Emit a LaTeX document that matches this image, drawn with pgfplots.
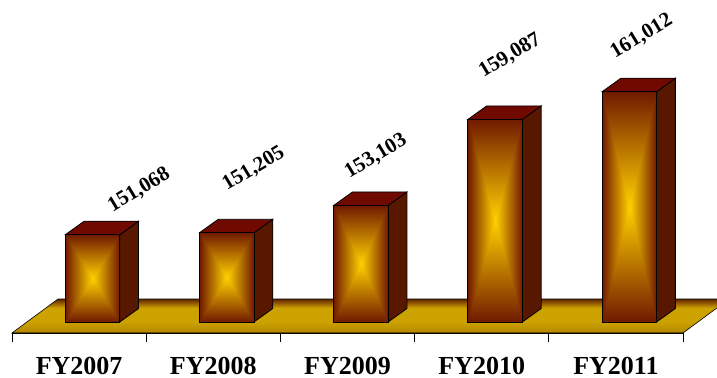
\documentclass[border=0pt]{standalone}
\usepackage{pgfplots}
\pgfplotsset{compat=1.18}
\usepackage{pgfplotstable}
\usepackage{fontspec}
\setmainfont{Liberation Serif}

\definecolor{sideface}{RGB}{88,24,0}
\definecolor{topface}{RGB}{112,10,0}
\definecolor{flA}{RGB}{128,90,0}
\definecolor{flB}{RGB}{184,140,0}
\definecolor{flC}{RGB}{204,162,0}
\definecolor{flD}{RGB}{150,90,0}
\definecolor{flE}{RGB}{95,40,0}

% bar fronts: rectangular glow, bright yellow centre fading to dark red edges
\pgfdeclarefunctionalshading{rectglow}{\pgfpoint{-50bp}{-50bp}}{\pgfpoint{50bp}{50bp}}{}{
  abs exch abs 2 copy sub abs add add 2 div 25 div
  dup 1 sub abs neg add 1 add 2 div
  dup dup 0.56 mul 1 exch sub 3 1 roll 0.72 mul 0.82 exch sub exch pop 0
}
% floor: gold plate, darker towards the back edge
\pgfdeclareverticalshading{floorshade}{100bp}{color(0bp)=(flA); color(25bp)=(flA);
  color(28bp)=(flB); color(42bp)=(flC); color(62bp)=(flC); color(69bp)=(flD);
  color(75bp)=(flE); color(100bp)=(flE)}

% fiscal year, headcount, label offsets (bp)
\pgfplotstableread{
x v dx dy
0 151068 46.5 44.5
1 151205 27.0 64.0
2 153103 15.0 49.0
3 159087 15.0 63.7
4 161012 12.2 55.5
}\fydata

% box geometry (x in category units, y in data units)
\def\xl{-0.103}
\def\xr{0.303}
\def\dxb{0.14}
\def\dyb{939}
\def\ybase{145000}

\begin{document}
\begin{tikzpicture}
\useasboundingbox (-12bp,-45bp) rectangle (705bp,333bp);
\clip (-12bp,-45bp) rectangle (705bp,333bp);
\begin{axis}[
  at={(0,0)}, anchor=south west,
  scale only axis, width=671bp, height=333bp,
  xmin=-0.5, xmax=4.5, ymin=144235, ymax=167392,
  clip=false,
  axis x line*=bottom, axis y line=none, ytick=\empty,
  xtick={0,...,4}, xticklabels={FY2007,FY2008,FY2009,FY2010,FY2011},
  minor xtick={-0.5,0.5,...,4.5},
  major tick length=0pt, minor tick length=9bp,
  tick align=outside,
  tick style={black, line width=0.8bp},
  axis line style={-, black, line width=0.8bp},
  xticklabel style={font=\bfseries\fontsize{26bp}{30bp}\selectfont,
    anchor=base, yshift=-41.5bp, inner sep=0pt},
  /pgf/number format/assume math mode=true,
]
% floor
\addplot[draw=black, line width=0.6bp, shade, shading=floorshade]
  coordinates {(-0.5,144235) (4.5,144235) (4.843,146599) (-0.157,146599)} -- cycle;

% 3D boxes
\pgfplotsinvokeforeach{0,...,4}{
  \pgfplotstablegetelem{#1}{v}\of\fydata
  \edef\doplot{%
    \noexpand\addplot[draw=black, line width=0.8bp, fill=sideface]
      coordinates {(\fpeval{#1+\xr},\ybase) (\fpeval{#1+\xr+\dxb},\fpeval{\ybase+\dyb})
        (\fpeval{#1+\xr+\dxb},\fpeval{\pgfplotsretval+\dyb}) (\fpeval{#1+\xr},\pgfplotsretval)} -- cycle;
    \noexpand\addplot[draw=black, line width=0.8bp, fill=topface]
      coordinates {(\fpeval{#1+\xl},\pgfplotsretval) (\fpeval{#1+\xr},\pgfplotsretval)
        (\fpeval{#1+\xr+\dxb},\fpeval{\pgfplotsretval+\dyb}) (\fpeval{#1+\xl+\dxb},\fpeval{\pgfplotsretval+\dyb})} -- cycle;
    \noexpand\addplot[draw=black, line width=0.8bp, shade, shading=rectglow]
      coordinates {(\fpeval{#1+\xl},\ybase) (\fpeval{#1+\xr},\ybase)
        (\fpeval{#1+\xr},\pgfplotsretval) (\fpeval{#1+\xl},\pgfplotsretval)} -- cycle;
  }\doplot
}

% value labels
\addplot[draw=none, point meta=explicit,
  visualization depends on={\thisrow{dx}\as\ldx},
  visualization depends on={\thisrow{dy}\as\ldy},
  nodes near coords={\pgfmathprintnumber[fixed,precision=0,1000 sep={,},assume math mode=true]{\pgfplotspointmeta}},
  nodes near coords style={anchor=center, xshift=\ldx bp, yshift=\ldy bp, rotate=31,
    font=\bfseries\fontsize{21bp}{25bp}\selectfont, inner sep=0pt, black},
] table[x expr=\thisrow{x}+0.1, y=v, meta=v] {\fydata};
\end{axis}
\end{tikzpicture}
\end{document}
